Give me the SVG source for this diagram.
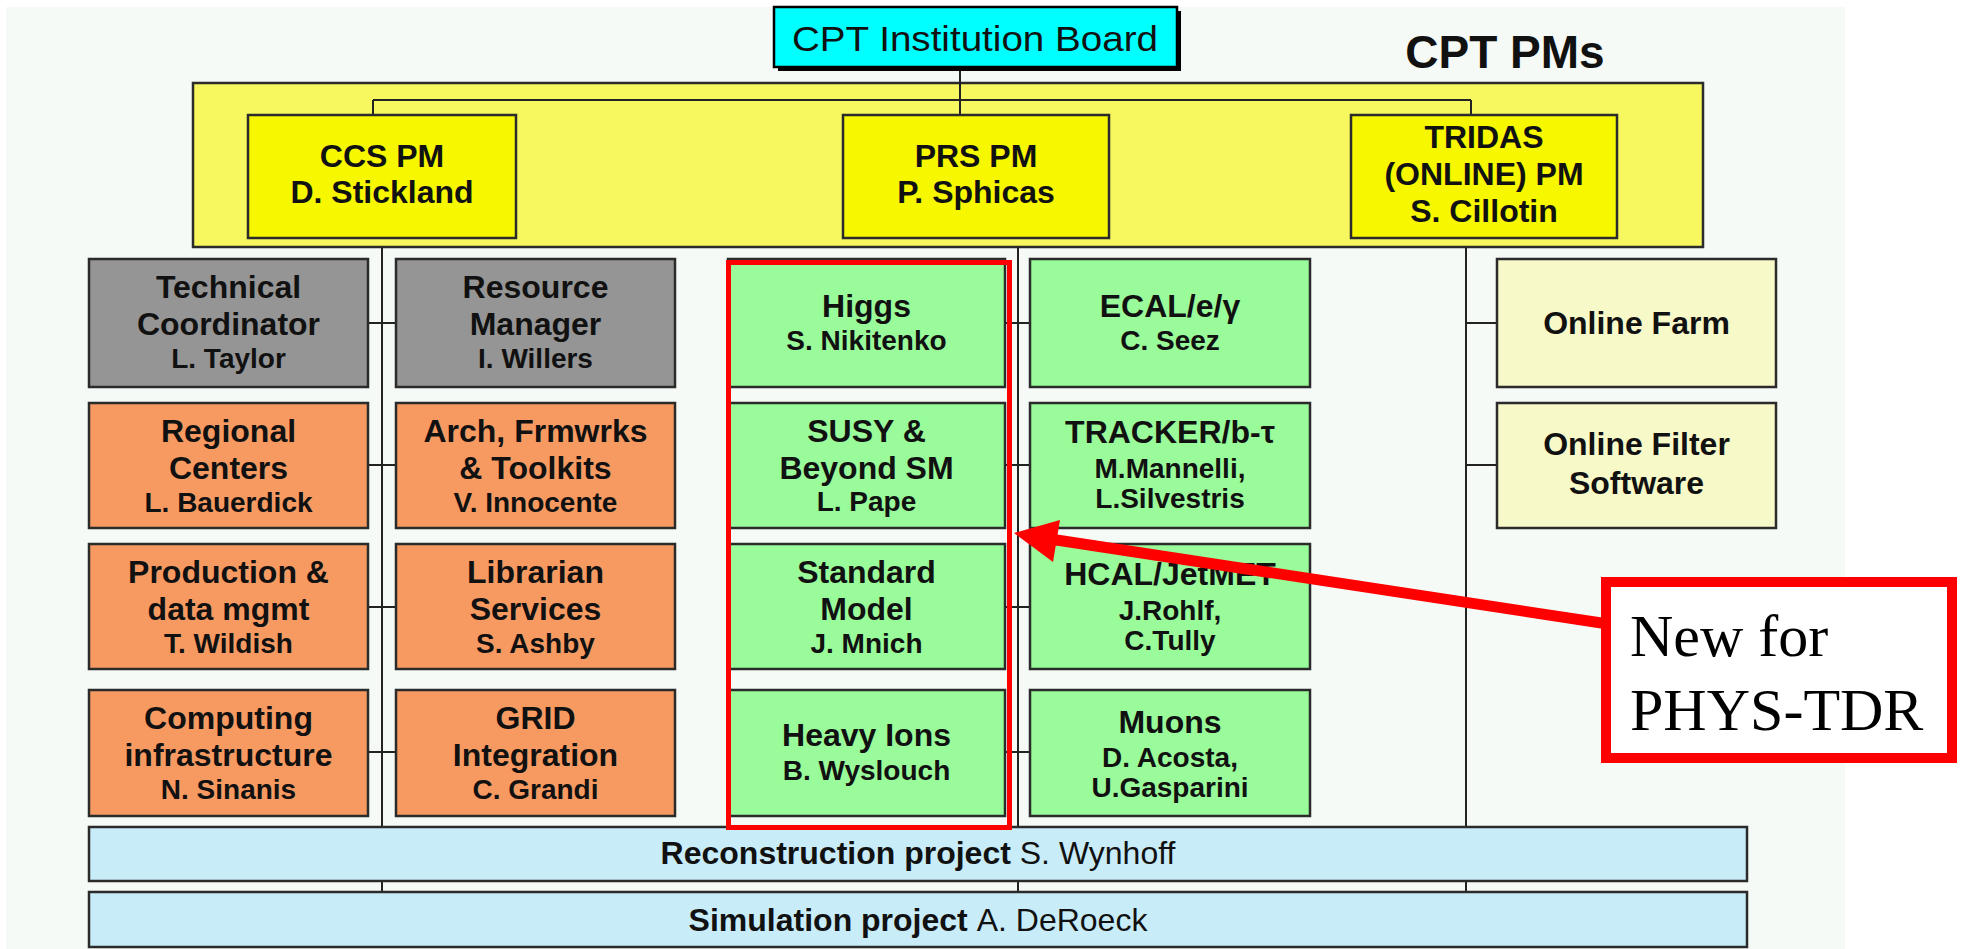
<svg xmlns="http://www.w3.org/2000/svg" width="1961" height="949" viewBox="0 0 1961 949">
<style>
.box{stroke:#2b2b2b;stroke-width:2.5}
.gray{fill:#959595}
.orange{fill:#f79a62}
.green{fill:#99fb99}
.blue{fill:#c8ecf8}
.pale{fill:#f8f9c8}
.pm{fill:#f7f700}
.t{font-family:"Liberation Sans",Arial,sans-serif;font-weight:bold;font-size:32px;text-anchor:middle;fill:#111}
.n{font-size:28px}
.c{stroke:#222;stroke-width:2;fill:none}
.r{font-weight:normal}
</style>
<rect x="0" y="0" width="1961" height="949" fill="#ffffff"/>
<rect x="6" y="7" width="1839" height="942" fill="#f5faf6"/>

<g id="pm-frame">
<rect x="193" y="83" width="1510" height="164" fill="#f7f760" class="box"/>
<text x="1505" y="68" class="t" style="font-size:46px">CPT PMs</text>
</g>

<g id="connectors">
<line class="c" x1="960" y1="68" x2="960" y2="115"/>
<line class="c" x1="373" y1="100" x2="1471" y2="100"/>
<line class="c" x1="373" y1="100" x2="373" y2="115"/>
<line class="c" x1="1471" y1="100" x2="1471" y2="115"/>
<line class="c" x1="382" y1="247" x2="382" y2="893"/>
<line class="c" x1="1018" y1="247" x2="1018" y2="893"/>
<line class="c" x1="1466" y1="247" x2="1466" y2="893"/>
<line class="c" x1="368" y1="323" x2="396" y2="323"/>
<line class="c" x1="368" y1="465" x2="396" y2="465"/>
<line class="c" x1="368" y1="607" x2="396" y2="607"/>
<line class="c" x1="368" y1="752" x2="396" y2="752"/>
<line class="c" x1="1005" y1="323" x2="1030" y2="323"/>
<line class="c" x1="1005" y1="465" x2="1030" y2="465"/>
<line class="c" x1="1005" y1="607" x2="1030" y2="607"/>
<line class="c" x1="1005" y1="752" x2="1030" y2="752"/>
<line class="c" x1="1466" y1="323" x2="1497" y2="323"/>
<line class="c" x1="1466" y1="465" x2="1497" y2="465"/>
</g>

<g id="board">
<rect x="778" y="11" width="403" height="60" fill="#000"/>
<rect x="774" y="7" width="403" height="60" fill="#00ffff" stroke="#000" stroke-width="2.5"/>
<text x="975" y="51" class="t r" style="font-size:35px" textLength="366" lengthAdjust="spacingAndGlyphs">CPT Institution Board</text>
</g>

<g id="ccs-pm">
<rect x="248" y="115" width="268" height="123" class="box pm"/>
<text x="382" y="167" class="t">CCS PM</text>
<text x="382" y="203" class="t">D. Stickland</text>
</g>
<g id="prs-pm">
<rect x="843" y="115" width="266" height="123" class="box pm"/>
<text x="976" y="167" class="t">PRS PM</text>
<text x="976" y="203" class="t">P. Sphicas</text>
</g>
<g id="tridas-pm">
<rect x="1351" y="115" width="266" height="123" class="box pm"/>
<text x="1484" y="148" class="t">TRIDAS</text>
<text x="1484" y="185" class="t">(ONLINE) PM</text>
<text x="1484" y="222" class="t">S. Cillotin</text>
</g>

<g id="tech-coord">
<rect x="89" y="259" width="279" height="128" class="box gray"/>
<text x="228.5" y="298" class="t">Technical</text>
<text x="228.5" y="335" class="t">Coordinator</text>
<text x="228.5" y="368" class="t n">L. Taylor</text>
</g>
<g id="resource-mgr">
<rect x="396" y="259" width="279" height="128" class="box gray"/>
<text x="535.5" y="298" class="t">Resource</text>
<text x="535.5" y="335" class="t">Manager</text>
<text x="535.5" y="368" class="t n">I. Willers</text>
</g>
<g id="regional">
<rect x="89" y="403" width="279" height="125" class="box orange"/>
<text x="228.5" y="442" class="t">Regional</text>
<text x="228.5" y="479" class="t">Centers</text>
<text x="228.5" y="512" class="t n">L. Bauerdick</text>
</g>
<g id="arch">
<rect x="396" y="403" width="279" height="125" class="box orange"/>
<text x="535.5" y="442" class="t">Arch, Frmwrks</text>
<text x="535.5" y="479" class="t">&amp; Toolkits</text>
<text x="535.5" y="512" class="t n">V. Innocente</text>
</g>
<g id="production">
<rect x="89" y="544" width="279" height="125" class="box orange"/>
<text x="228.5" y="583" class="t">Production &amp;</text>
<text x="228.5" y="620" class="t">data mgmt</text>
<text x="228.5" y="653" class="t n">T. Wildish</text>
</g>
<g id="librarian">
<rect x="396" y="544" width="279" height="125" class="box orange"/>
<text x="535.5" y="583" class="t">Librarian</text>
<text x="535.5" y="620" class="t">Services</text>
<text x="535.5" y="653" class="t n">S. Ashby</text>
</g>
<g id="computing">
<rect x="89" y="690" width="279" height="126" class="box orange"/>
<text x="228.5" y="729" class="t">Computing</text>
<text x="228.5" y="766" class="t">infrastructure</text>
<text x="228.5" y="799" class="t n">N. Sinanis</text>
</g>
<g id="grid">
<rect x="396" y="690" width="279" height="126" class="box orange"/>
<text x="535.5" y="729" class="t">GRID</text>
<text x="535.5" y="766" class="t">Integration</text>
<text x="535.5" y="799" class="t n">C. Grandi</text>
</g>

<g id="higgs">
<rect x="728" y="259" width="277" height="128" class="box green"/>
<text x="866.5" y="317" class="t">Higgs</text>
<text x="866.5" y="350" class="t n">S. Nikitenko</text>
</g>
<g id="susy">
<rect x="728" y="403" width="277" height="125" class="box green"/>
<text x="866.5" y="442" class="t">SUSY &amp;</text>
<text x="866.5" y="479" class="t">Beyond SM</text>
<text x="866.5" y="511" class="t n">L. Pape</text>
</g>
<g id="standard-model">
<rect x="728" y="544" width="277" height="125" class="box green"/>
<text x="866.5" y="583" class="t">Standard</text>
<text x="866.5" y="620" class="t">Model</text>
<text x="866.5" y="653" class="t n">J. Mnich</text>
</g>
<g id="heavy-ions">
<rect x="728" y="690" width="277" height="126" class="box green"/>
<text x="866.5" y="746" class="t">Heavy Ions</text>
<text x="866.5" y="780" class="t n">B. Wyslouch</text>
</g>

<g id="ecal">
<rect x="1030" y="259" width="280" height="128" class="box green"/>
<text x="1170" y="317" class="t">ECAL/e/γ</text>
<text x="1170" y="350" class="t n">C. Seez</text>
</g>
<g id="tracker">
<rect x="1030" y="403" width="280" height="125" class="box green"/>
<text x="1170" y="443" class="t">TRACKER/b-τ</text>
<text x="1170" y="478" class="t n">M.Mannelli,</text>
<text x="1170" y="508" class="t n">L.Silvestris</text>
</g>
<g id="hcal">
<rect x="1030" y="544" width="280" height="125" class="box green"/>
<text x="1170" y="585" class="t">HCAL/JetMET</text>
<text x="1170" y="620" class="t n">J.Rohlf,</text>
<text x="1170" y="650" class="t n">C.Tully</text>
</g>
<g id="muons">
<rect x="1030" y="690" width="280" height="126" class="box green"/>
<text x="1170" y="733" class="t">Muons</text>
<text x="1170" y="767" class="t n">D. Acosta,</text>
<text x="1170" y="797" class="t n">U.Gasparini</text>
</g>

<g id="online-farm">
<rect x="1497" y="259" width="279" height="128" class="box pale"/>
<text x="1636.5" y="334" class="t">Online Farm</text>
</g>
<g id="online-filter">
<rect x="1497" y="403" width="279" height="125" class="box pale"/>
<text x="1636.5" y="455" class="t">Online Filter</text>
<text x="1636.5" y="494" class="t">Software</text>
</g>

<g id="reconstruction">
<rect x="89" y="827" width="1658" height="54" class="box blue"/>
<text x="918" y="864" class="t">Reconstruction project <tspan class="r">S. Wynhoff</tspan></text>
</g>
<g id="simulation">
<rect x="89" y="892" width="1658" height="55" class="box blue"/>
<text x="918" y="931" class="t">Simulation project <tspan class="r">A. DeRoeck</tspan></text>
</g>

<g id="phys-highlight">
<rect x="728.5" y="262.5" width="281" height="565" fill="none" stroke="#ff0000" stroke-width="5"/>
</g>

<g id="annotation-arrow">
<line x1="1050" y1="539" x2="1608" y2="624" stroke="#ff0000" stroke-width="11"/>
<polygon points="1014,533 1060,520 1053,562" fill="#ff0000"/>
</g>

<g id="note">
<rect x="1606" y="582" width="346" height="176" fill="#ffffff" stroke="#ff0000" stroke-width="10"/>
<text x="1630" y="656" font-family="'Liberation Serif','Times New Roman',serif" font-size="60" fill="#000">New for</text>
<text x="1630" y="730" font-family="'Liberation Serif','Times New Roman',serif" font-size="60" fill="#000">PHYS-TDR</text>
</g>
</svg>
